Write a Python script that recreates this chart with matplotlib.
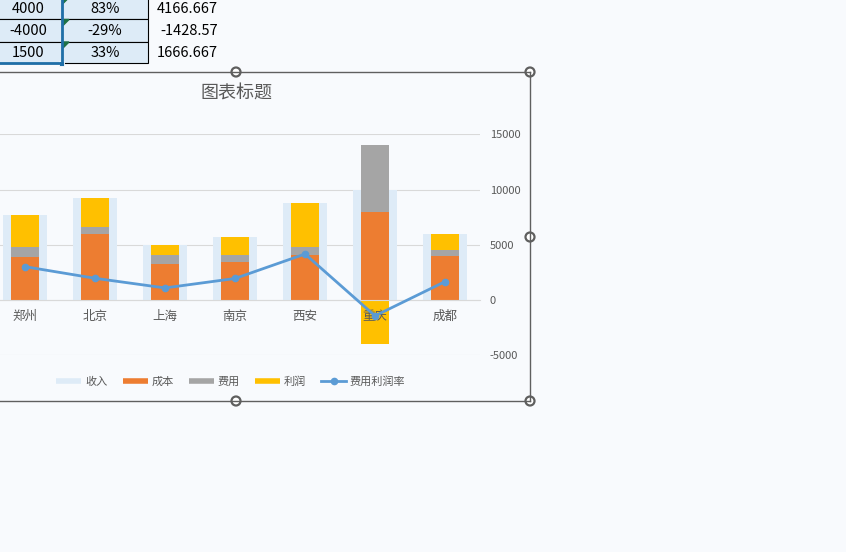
import matplotlib
matplotlib.use('Agg')
import matplotlib.pyplot as plt
from matplotlib.lines import Line2D
from matplotlib.patches import Rectangle, Circle

plt.rcParams['font.family'] = ['Noto Sans CJK SC', 'DejaVu Sans']

# chart data
cities = ['郑州', '北京', '上海', '南京', '西安', '重庆', '成都']
income = [7700, 9200, 5000, 5700, 8800, 10000, 6000]
cost = [3900, 6000, 3300, 3400, 4100, 8000, 4000]
expense = [900, 600, 800, 700, 700, 6000, 500]
profit = [2900, 2600, 900, 1600, 4000, -4000, 1500]
rate = [3021, 1970, 1098, 1951, 4166.667, -1428.57, 1666.667]
yticks = [-5000, 0, 5000, 10000, 15000]

# visible sheet cells above the chart
tbl_profit = ['4000', '-4000', '1500']
tbl_rate = ['83%', '-29%', '33%']
tbl_line = ['4166.667', '-1428.57', '1666.667']

W, H = 846, 552
bg = '#F8FAFD'
txt = '#595959'
fig = plt.figure(figsize=(W / 100, H / 100), dpi=100, facecolor=bg)

# chart plot area (pixel layout converted to figure fractions)
px_l, px_r, px_t, px_b = -10, 480, 134.3, 355.3
ax = fig.add_axes([px_l / W, 1 - px_b / H, (px_r - px_l) / W, (px_b - px_t) / H])
ax.set_facecolor(bg)
ax.set_axisbelow(True)
x = list(range(len(cities)))

ax.bar(x, income, width=0.62, color='#DEEBF7', zorder=1)
ax.bar(x, cost, width=0.41, color='#ED7D31', zorder=2)
ax.bar(x, expense, width=0.41, bottom=cost, color='#A5A5A5', zorder=2)
pbottom = [c + e if p >= 0 else 0 for c, e, p in zip(cost, expense, profit)]
ax.bar(x, profit, width=0.41, bottom=pbottom, color='#FFC000', zorder=2)
ax.plot(x, rate, color='#5B9BD5', lw=2.0, marker='o', ms=4.5, zorder=4)

# category labels sit at the zero line, over the bars, under the line
for xi, name in zip(x, cities):
    ax.annotate(name, (xi, 0), xytext=(0, -16.5), textcoords='offset pixels',
                ha='center', va='center', fontsize=9, color=txt, zorder=3)

ax.set_xlim(-0.5, len(cities) - 0.5)
ax.set_ylim(-5000, 15000)
ax.set_yticks(yticks)
ax.set_yticklabels([str(v) for v in yticks])
ax.yaxis.tick_right()
ax.tick_params(axis='y', length=0, pad=7, labelsize=8, labelcolor=txt)
ax.set_xticks([])
ax.grid(axis='y', color='#D9D9D9', lw=0.8)
for s in ['top', 'left', 'right']:
    ax.spines[s].set_visible(False)
ax.spines['bottom'].set_position(('data', 0))
ax.spines['bottom'].set_color('#D9D9D9')
ax.spines['bottom'].set_linewidth(0.8)

fig.text(236 / W, 1 - 94 / H, '图表标题', fontsize=13, color=txt,
         ha='center', va='center')

handles = [
    Line2D([], [], color='#DEEBF7', lw=4, solid_capstyle='butt'),
    Line2D([], [], color='#ED7D31', lw=4, solid_capstyle='butt'),
    Line2D([], [], color='#A5A5A5', lw=4, solid_capstyle='butt'),
    Line2D([], [], color='#FFC000', lw=4, solid_capstyle='butt'),
    Line2D([], [], color='#5B9BD5', lw=2, marker='o', ms=4.5),
]
labels = ['收入', '成本', '费用', '利润', '费用利润率']
fig.legend(handles, labels, loc='center', bbox_to_anchor=(231 / W, 1 - 382 / H),
           ncol=5, frameon=False, fontsize=8, handlelength=2.25,
           handletextpad=0.35, columnspacing=1.35, labelcolor=txt)

# overlay in pixel coordinates: sheet cells and chart frame
ov = fig.add_axes([0, 0, 1, 1], zorder=5)
ov.set_xlim(0, W)
ov.set_ylim(H, 0)
ov.axis('off')
ov.patch.set_alpha(0)

rows = [(-3, 19), (19, 41.5), (41.5, 63.3)]
for i, (t, b) in enumerate(rows):
    ov.add_patch(Rectangle((-2, t), 64, b - t, facecolor='#DDEBF7', edgecolor='black', lw=0.8))
    ov.add_patch(Rectangle((62, t), 86, b - t, facecolor='#DDEBF7', edgecolor='black', lw=0.8))
    ov.add_patch(plt.Polygon([(63, t + 0.5), (69, t + 0.5), (63, t + 6.5)], color='#1E7145'))
    yc = (t + b) / 2 + 1
    ov.text(28, yc, tbl_profit[i], fontsize=10.5, ha='center', va='center', color='black')
    ov.text(105, yc, tbl_rate[i], fontsize=10.5, ha='center', va='center', color='black')
    ov.text(218, yc, tbl_line[i], fontsize=10.5, ha='right', va='center', color='black')
# selection border
ov.plot([62, 62], [-3, 63.3], color='#1F6FA8', lw=2)
ov.plot([-2, 62], [63.3, 63.3], color='#1F6FA8', lw=2)
ov.add_patch(Rectangle((59, 60.5), 5, 5, facecolor='#1F6FA8', edgecolor='white', lw=0.6))

# chart frame and handles
fc = '#5F5F5F'
ov.plot([-2, 530], [72, 72], color=fc, lw=1)
ov.plot([530, 530], [72, 401], color=fc, lw=1)
ov.plot([-2, 530], [401, 401], color=fc, lw=1)
for hx, hy in [(236, 72), (530, 72), (530, 237), (236, 401), (530, 401)]:
    ov.add_patch(Circle((hx, hy), 4.5, facecolor='white', edgecolor=fc, lw=1.6))

fig.savefig('out.png', dpi=100, facecolor=bg)
